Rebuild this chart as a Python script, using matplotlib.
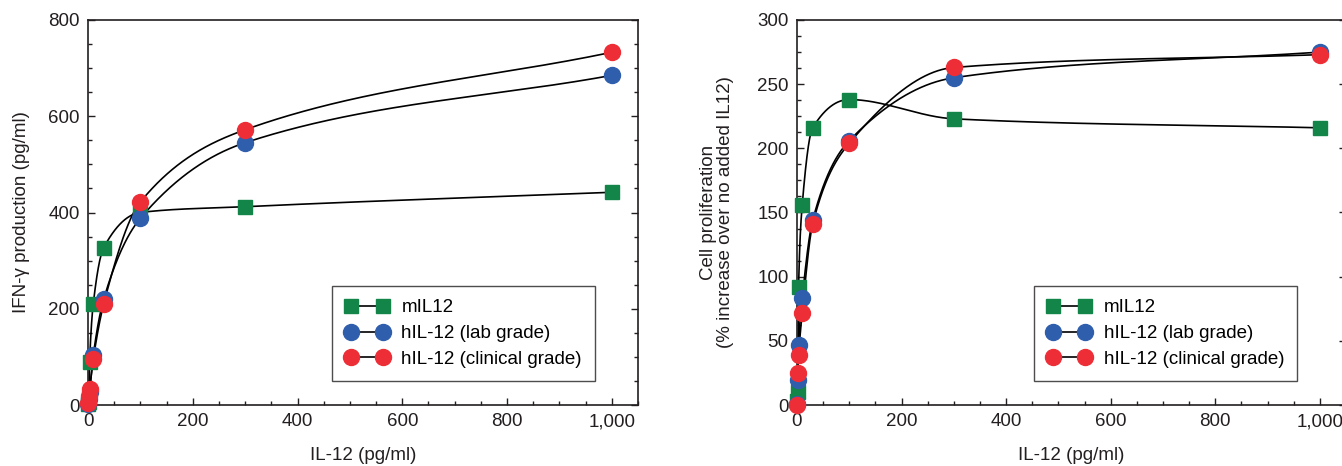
import numpy as np
import matplotlib
matplotlib.use("Agg")
import matplotlib.pyplot as plt
from matplotlib.ticker import MultipleLocator, AutoMinorLocator, FuncFormatter

plt.rcParams["font.family"] = ["Liberation Sans", "DejaVu Sans"]

# doses (pg/ml)
dose = [0.3, 1, 3, 10, 30, 100, 300, 1000]

# IFN-gamma production (pg/ml)
ifn_m = [2, 6, 90, 210, 327, 400, 412, 442]
ifn_lab = [3, 12, 28, 103, 220, 388, 545, 685]
ifn_clin = [5, 19, 33, 95, 210, 422, 572, 733]

# cell proliferation (% increase over no added IL12)
prol_m = [3, 10, 92, 156, 216, 238, 223, 216]
prol_lab = [1, 19.5, 47, 83, 144, 206, 255, 275]
prol_clin = [0, 25, 39, 72, 141, 204, 263, 273]

labels = ["mIL12", "hIL-12 (lab grade)", "hIL-12 (clinical grade)"]
colors = ["#138548", "#2f5ead", "#ee2e36"]
markers = ["s", "o", "o"]
msizes = [10, 11.5, 11.5]

FS = 13.5
TXT = "#231f20"


def pchip(x, y, xs):
    # monotone cubic through the measured points, used only for the drawn curve
    x = np.asarray(x, float)
    y = np.asarray(y, float)
    h = np.diff(x)
    d = np.diff(y) / h
    n = len(x)
    m = np.zeros(n)
    for k in range(1, n - 1):
        if d[k - 1] * d[k] > 0:
            w1 = 2 * h[k] + h[k - 1]
            w2 = h[k] + 2 * h[k - 1]
            m[k] = (w1 + w2) / (w1 / d[k - 1] + w2 / d[k])
    m[0] = d[0]
    m[-1] = d[-1]
    idx = np.clip(np.searchsorted(x, xs) - 1, 0, n - 2)
    t = (xs - x[idx]) / h[idx]
    h00 = 2 * t**3 - 3 * t**2 + 1
    h10 = t**3 - 2 * t**2 + t
    h01 = -2 * t**3 + 3 * t**2
    h11 = t**3 - t**2
    return (h00 * y[idx] + h10 * h[idx] * m[idx]
            + h01 * y[idx + 1] + h11 * h[idx] * m[idx + 1])


def thousands(v, pos):
    return f"{int(v):,}"


def draw_panel(ax, series, ymax, ymajor, ylabel, ypad, leg_x):
    xs = np.concatenate([np.linspace(dose[0], 30, 300), np.linspace(30, dose[-1], 600)[1:]])
    for vals in series:
        ax.plot(xs, pchip(dose, vals, xs), color="black", lw=1.2, zorder=2)
    handles = []
    for i, vals in enumerate(series):
        ax.plot(dose, vals, linestyle="none", marker=markers[i], ms=msizes[i],
                color=colors[i], mec=colors[i], zorder=3 + i, clip_on=False)
        h, = ax.plot([], [], color="black", lw=1.2, marker=markers[i], ms=msizes[i],
                     mfc=colors[i], mec=colors[i], label=labels[i])
        handles.append(h)

    ax.set_xlim(0, 1050)
    ax.set_ylim(0, ymax)
    ax.xaxis.set_major_locator(MultipleLocator(200))
    ax.xaxis.set_minor_locator(AutoMinorLocator(4))
    ax.yaxis.set_major_locator(MultipleLocator(ymajor))
    ax.yaxis.set_minor_locator(AutoMinorLocator(4))
    ax.xaxis.set_major_formatter(FuncFormatter(thousands))
    ax.tick_params(which="both", direction="in", right=True, top=False,
                   labelsize=FS, colors=TXT, width=1)
    ax.tick_params(which="major", length=5, pad=6)
    ax.tick_params(which="minor", length=3)
    for s in ax.spines.values():
        s.set_linewidth(1.2)
        s.set_color(TXT)
    ax.set_xlabel("IL-12 (pg/ml)", fontsize=FS, labelpad=12, color=TXT)
    ax.set_ylabel(ylabel, fontsize=FS, color=TXT, labelpad=ypad, linespacing=1.0)

    leg = ax.legend(handles=handles, loc="lower right", bbox_to_anchor=(leg_x, 0.062),
                    borderaxespad=0, numpoints=2, handlelength=2.3, fontsize=FS,
                    frameon=True, fancybox=False, edgecolor=TXT, borderpad=0.7,
                    labelspacing=0.47, handletextpad=0.7)
    leg.get_frame().set_linewidth(1.0)


fig = plt.figure(figsize=(13.42, 4.66), dpi=100)
ax1 = fig.add_axes([88 / 1342, 61 / 466, 550 / 1342, 385 / 466])
ax2 = fig.add_axes([797 / 1342, 61 / 466, 549 / 1342, 385 / 466])

draw_panel(ax1, [ifn_m, ifn_lab, ifn_clin], 800, 200,
           "IFN-\u03b3 production (pg/ml)", 13, 0.922)
draw_panel(ax2, [prol_m, prol_lab, prol_clin], 300, 50,
           "Cell proliferation\n(% increase over no added IL12)", 17, 0.911)

fig.savefig("out.png", dpi=100)
